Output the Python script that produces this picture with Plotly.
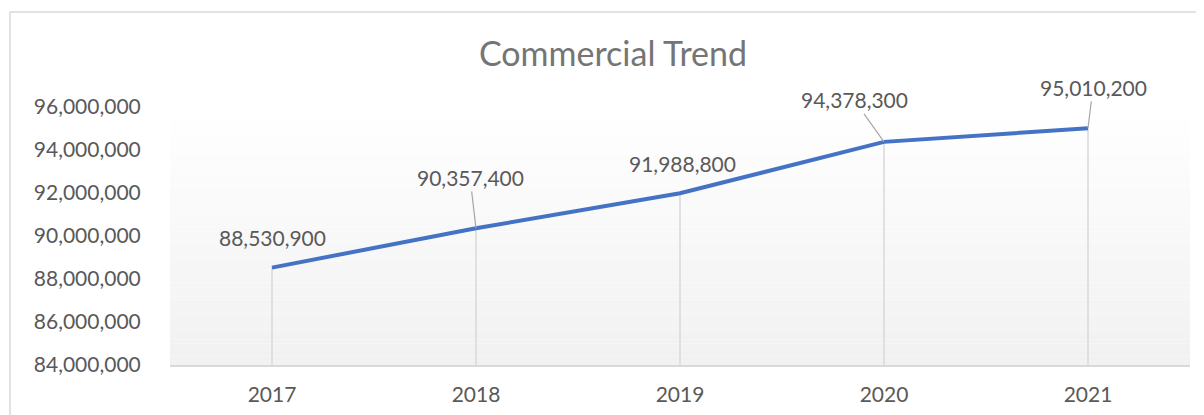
import plotly.graph_objects as go

# ---- data ----
years = ["2017", "2018", "2019", "2020", "2021"]
values = [88530900, 90357400, 91988800, 94378300, 95010200]
y_ticks = [84000000, 86000000, 88000000, 90000000, 92000000, 94000000, 96000000]
y_tick_labels = ["84,000,000", "86,000,000", "88,000,000", "90,000,000",
                 "92,000,000", "94,000,000", "96,000,000"]
title_text = "Commercial Trend"

# label offsets (pixels) : (dx, dy, has_leader)
label_offsets = [(0, -30, False), (-6, -51, True), (2, -30, False),
                 (-30, -42, True), (5, -41, True)]

FONT = "Lato"
OFF = 8  # browser body margin
W, H = 1204 - OFF, 415 - OFF
L, R, T, B = 170 - OFF, 14, 107 - OFF, 50
plot_h = H - T - B
plot_w = W - L - R
ymin, ymax = y_ticks[0], y_ticks[-1]

fig = go.Figure()

# drop lines from each point to the axis
dx, dy = [], []
for yr, v in zip(years, values):
    dx += [yr, yr, None]
    dy += [ymin, v, None]
fig.add_trace(go.Scatter(x=dx, y=dy, mode="lines",
                         line=dict(color="#d9d9d9", width=1.5),
                         hoverinfo="skip", showlegend=False))

fig.add_trace(go.Scatter(x=years, y=values, mode="lines",
                         line=dict(color="#4472C4", width=4),
                         showlegend=False))

annotations = []
for i, (v, (ox, oy, leader)) in enumerate(zip(values, label_offsets)):
    txt = f"{v:,}"
    common = dict(x=i, y=v, xref="x", yref="y", text=txt,
                  font=dict(family=FONT, size=21, color="#595959"))
    if leader:
        annotations.append(dict(**common, showarrow=True, ax=ox, ay=oy,
                                arrowhead=0, arrowwidth=1.2,
                                arrowcolor="#a6a6a6", standoff=0))
    else:
        annotations.append(dict(**common, showarrow=False,
                                xshift=ox, yshift=-oy))

shapes = []
# gradient plot-area background
n = 60
for i in range(n):
    t = i / (n - 1)
    c = round(255 - 14 * (1 - t))
    shapes.append(dict(type="rect", xref="paper", yref="paper",
                       x0=0, x1=1, y0=i / n, y1=(i + 1) / n,
                       fillcolor=f"rgb({c},{c},{c})", line=dict(width=0),
                       layer="below"))
# chart border
shapes.append(dict(type="rect", xref="paper", yref="paper",
                   x0=(10 - OFF - L) / plot_w, x1=(1215 - L) / plot_w,
                   y0=(H - B - 430) / plot_h, y1=1 + (T - (12 - OFF)) / plot_h,
                   line=dict(color="#d9d9d9", width=1.5), fillcolor="rgba(0,0,0,0)",
                   layer="below"))

fig.update_layout(
    width=W, height=H,
    margin=dict(l=L, r=R, t=T, b=B, autoexpand=False),
    paper_bgcolor="white", plot_bgcolor="rgba(0,0,0,0)",
    title=dict(text=title_text, xref="container", yref="container",
               x=(613 - OFF) / W, y=1 - (54 - OFF) / H,
               xanchor="center", yanchor="middle",
               font=dict(family=FONT, size=34, color="#757575")),
    annotations=annotations,
    shapes=shapes,
    xaxis=dict(type="category", showgrid=False, showline=True,
               linecolor="#d9d9d9", linewidth=1.5, zeroline=False,
               ticks="outside", ticklen=10, tickcolor="rgba(0,0,0,0)",
               tickfont=dict(family=FONT, size=21, color="#595959"),
               range=[-0.5, 4.5]),
    yaxis=dict(range=[ymin, ymax], tickvals=y_ticks, ticktext=y_tick_labels,
               showgrid=False, zeroline=False, showline=False,
               ticks="outside", ticklen=24, tickcolor="rgba(0,0,0,0)",
               tickfont=dict(family=FONT, size=21, color="#595959")),
    hovermode=False,
)

fig.write_html("out.html")
